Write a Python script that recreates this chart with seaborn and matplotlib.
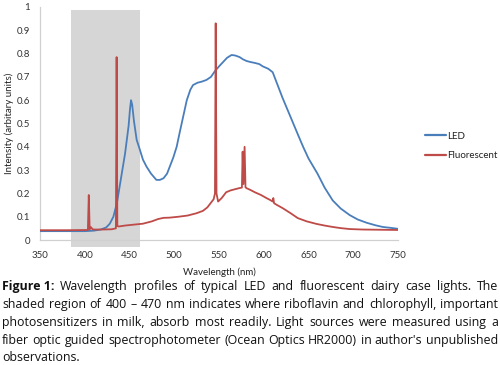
import numpy as np
import pandas as pd
import matplotlib
matplotlib.use("Agg")
import matplotlib.pyplot as plt
from matplotlib.patches import Rectangle
from matplotlib.lines import Line2D
import seaborn as sns

# LED spectrum (nm, intensity)
led_wl = [350, 380, 400, 410, 418, 424, 428, 432, 436, 439, 442, 445, 447, 449,
          450.5, 451.7, 453, 455, 458, 461.7, 465, 469, 474, 480, 484, 488, 492,
          495, 499, 502.7, 506, 510, 514, 518, 521, 526, 531, 536, 541, 545.5,
          550, 554.6, 559, 564, 568, 573, 577, 581, 585, 590, 595, 599, 605, 610,
          615, 621, 627, 633, 639, 644, 650, 660, 668, 677, 686, 696, 705, 715,
          725, 733, 742, 750]
led_val = [0.038, 0.038, 0.038, 0.040, 0.045, 0.054, 0.070, 0.10, 0.16, 0.23, 0.30,
           0.37, 0.43, 0.49, 0.56, 0.60, 0.58, 0.51, 0.43, 0.386, 0.345, 0.315,
           0.285, 0.258, 0.258, 0.265, 0.285, 0.315, 0.355, 0.40, 0.46, 0.53, 0.60,
           0.645, 0.665, 0.675, 0.68, 0.687, 0.70, 0.725, 0.745, 0.764, 0.782,
           0.794, 0.792, 0.785, 0.775, 0.768, 0.764, 0.76, 0.755, 0.745, 0.735,
           0.72, 0.67, 0.61, 0.555, 0.50, 0.445, 0.40, 0.35, 0.285, 0.225, 0.17,
           0.135, 0.107, 0.088, 0.074, 0.063, 0.056, 0.052, 0.048]

# Fluorescent spectrum
fl_wl = [350, 380, 403.5, 404.5, 405.5, 407, 408.5, 410, 420, 430, 434.8, 435.6,
         436.4, 438, 445, 455, 465, 475, 482, 488, 495, 505, 515, 525, 532, 537,
         541, 544, 545.5, 546.3, 547.2, 549, 553, 558, 563, 568, 572, 575.6,
         576.4, 577.3, 578.6, 579.6, 581, 585, 590, 597, 603, 607, 610, 610.7,
         611.5, 614, 621, 630, 638, 648, 659, 668, 677, 686, 696, 710, 730, 750]
fl_val = [0.042, 0.042, 0.043, 0.193, 0.046, 0.055, 0.047, 0.045, 0.045, 0.046,
          0.05, 0.785, 0.06, 0.058, 0.062, 0.066, 0.07, 0.08, 0.09, 0.095, 0.096,
          0.10, 0.105, 0.115, 0.125, 0.14, 0.16, 0.175, 0.2, 0.93, 0.2, 0.165,
          0.18, 0.205, 0.213, 0.218, 0.222, 0.225, 0.379, 0.24, 0.40, 0.226,
          0.222, 0.215, 0.205, 0.193, 0.18, 0.172, 0.165, 0.18, 0.158, 0.152,
          0.137, 0.115, 0.094, 0.08, 0.069, 0.062, 0.056, 0.051, 0.047, 0.045,
          0.044, 0.043]

shade_band = [385, 462]
x_ticks = [350, 400, 450, 500, 550, 600, 650, 700, 750]
y_ticks = [0, 0.1, 0.2, 0.3, 0.4, 0.5, 0.6, 0.7, 0.8, 0.9, 1]
y_tick_labels = ["0", "0.1", "0.2", "0.3", "0.4", "0.5", "0.6", "0.7", "0.8", "0.9", "1"]

caption_lines = [
    "Wavelength profiles of typical LED and fluorescent dairy case lights. The",
    "shaded region of 400 \u2013 470 nm indicates where riboflavin and chlorophyll, important",
    "photosensitizers in milk, absorb most readily. Light sources were measured using a",
    "fiber optic guided spectrophotometer (Ocean Optics HR2000) in author's unpublished",
    "observations.",
]

sns.set_theme(style="white")
plt.rcParams["font.family"] = ["Lato", "DejaVu Sans"]

led_color = "#4A7EBB"
fl_color = "#BE4B48"

W, H = 500, 365
fig = plt.figure(figsize=(5, 3.65), dpi=100)
ax = fig.add_axes([40 / W, 1 - 240 / H, 358 / W, 233 / H])

df = pd.concat([
    pd.DataFrame({"wl": led_wl, "val": led_val, "src": "LED"}),
    pd.DataFrame({"wl": fl_wl, "val": fl_val, "src": "Fluorescent"}),
])

# shaded absorption region (extends a bit below the axis line)
ax.add_patch(Rectangle((shade_band[0], -0.03), shade_band[1] - shade_band[0], 1.017,
                       facecolor="#D6D6D6", edgecolor="none", zorder=0, clip_on=False))

sns.lineplot(data=df, x="wl", y="val", hue="src", sort=False, estimator=None,
             palette={"LED": led_color, "Fluorescent": fl_color},
             linewidth=1.3, ax=ax, legend=False, zorder=3)

ax.set_xlim(350, 750)
ax.set_ylim(0, 1)
ax.set_xticks(x_ticks)
ax.set_yticks(y_ticks)
ax.set_yticklabels(y_tick_labels)
ax.tick_params(axis="both", length=0, labelsize=7, colors="#333333")
ax.tick_params(axis="y", pad=7)
ax.tick_params(axis="x", pad=8)
for s in ["top", "right"]:
    ax.spines[s].set_visible(False)
for s in ["left", "bottom"]:
    ax.spines[s].set_color("#D0D0D0")
    ax.spines[s].set_linewidth(0.9)
ax.set_xlabel("Wavelength (nm)", fontsize=7, color="#222222", labelpad=5)
ax.set_ylabel("Intensity (arbitary units)", fontsize=7, color="#222222", labelpad=2)
ax.set_facecolor("white")

# legend
handles = [Line2D([], [], color=led_color, lw=1.6),
           Line2D([], [], color=fl_color, lw=1.6)]
fig.legend(handles, ["LED", "Fluorescent"], loc="upper left",
           bbox_to_anchor=(416 / W, 1 - 123 / H), frameon=False, fontsize=7,
           handlelength=2.2, handletextpad=0.15, labelspacing=1.1,
           labelcolor="#222222")

# caption with justified lines
renderer = fig.canvas.get_renderer()
left_px, right_px = 2, 498
baselines = [290, 308, 326, 344, 361]
cap_size = 8.9
cap_font = ["Open Sans"]


def text_width(s, weight="normal"):
    t = fig.text(0, 0, s, fontsize=cap_size, fontweight=weight, family=cap_font)
    w = t.get_window_extent(renderer).width
    t.remove()
    return w


space_w = text_width("a a") - text_width("aa")
for i, line in enumerate(caption_lines):
    words = [(w, "normal") for w in line.split(" ")]
    if i == 0:
        words = [("Figure 1:", "bold")] + words
    widths = [text_width(w, wt) for w, wt in words]
    if i < len(caption_lines) - 1 and len(words) > 1:
        gap = (right_px - left_px - sum(widths)) / (len(words) - 1)
    else:
        gap = space_w
    x = left_px
    for (w, wt), wd in zip(words, widths):
        fig.text(x / W, 1 - baselines[i] / H, w, fontsize=cap_size, fontweight=wt,
                 family=cap_font, color="#111111", va="baseline", ha="left")
        x += wd + gap

fig.savefig("out.png", dpi=100, facecolor="white")
